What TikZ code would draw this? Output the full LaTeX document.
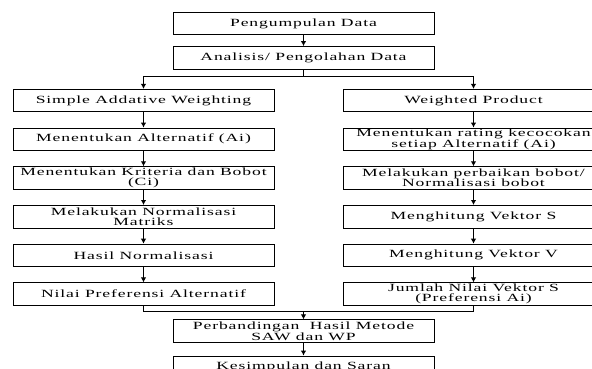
\documentclass[tikz,border=0pt]{standalone}
\usepackage{fontspec}
\usepackage{tikz}
\usetikzlibrary{arrows.meta,positioning,calc}
\newfontfamily\boxfont[FakeStretch=1.6,LetterSpace=8]{Liberation Serif}
\tikzset{
  box/.style={draw=black,fill=white,line width=.7pt,minimum width=261pt,minimum height=22.5pt,align=center,inner sep=0pt,font=\boxfont\fontsize{11}{10}\selectfont},
  flow/.style={-{Latex[length=5pt,width=5.5pt]},draw=black,line width=1.1pt},
  plainline/.style={draw=black,line width=1.1pt}
}
\begin{document}
\begin{tikzpicture}[x=1pt,y=-1pt,node distance=15.5pt]
        \path[use as bounding box,clip] (0,0) rectangle (592,369);
        \fill[white] (0,0) rectangle (592,369);
        % top
        \node[box] (kumpul) at (303.5,23.5) {Pengumpulan Data};
        \node[box,below=11pt of kumpul] (analisis) {Analisis/ Pengolahan Data};
        % SAW column
        \node[box] (saw) at (143.5,100.5) {Simple Addative Weighting};
        \node[box,below=of saw] (alt) {Menentukan Alternatif (Ai)};
        \node[box,below=of alt] (kriteria) {Menentukan Kriteria dan Bobot\\(Ci)};
        \node[box,below=of kriteria] (normal) {Melakukan Normalisasi\\Matriks};
        \node[box,below=of normal] (hasil) {Hasil Normalisasi};
        \node[box,below=of hasil] (nilai) {Nilai Preferensi Alternatif};
        % WP column
        \node[box] (wp) at (473.5,100.5) {Weighted Product};
        \node[box,below=of wp] (rating) {Menentukan rating kecocokan\\setiap Alternatif (Ai)};
        \node[box,below=of rating] (bobot) {Melakukan perbaikan bobot/\\Normalisasi bobot};
        \node[box,below=of bobot] (vs) {Menghitung Vektor S};
        \node[box,below=of vs] (vv) {Menghitung Vektor V};
        \node[box,below=of vv] (jumlah) {Jumlah Nilai Vektor S\\(Preferensi Ai)};
        % bottom
        \node[box] (banding) at (303.5,331) {Perbandingan\ \ Hasil Metode\\SAW dan WP};
        \node[box,below=13pt of banding] (simpul) {Kesimpulan dan Saran};

        \draw[flow] (kumpul) -- (analisis);
        \coordinate (split) at ($(analisis.south)+(0,7)$);
        \draw[plainline] (analisis.south) -- (split);
        \draw[flow] (split) -| (saw.north);
        \draw[flow] (split) -| (wp.north);
        \foreach \a/\b in {saw/alt,alt/kriteria,kriteria/normal,normal/hasil,hasil/nilai,
                           wp/rating,rating/bobot,bobot/vs,vs/vv,vv/jumlah}
          \draw[flow] (\a) -- (\b);
        \coordinate (join) at ($(nilai.south)+(0,6)$);
        \draw[plainline] (nilai.south) -- (join) -| (jumlah.south);
        \draw[flow] (join -| banding.north) -- (banding.north);
        \draw[flow] (banding) -- (simpul);
      \end{tikzpicture}
\end{document}
